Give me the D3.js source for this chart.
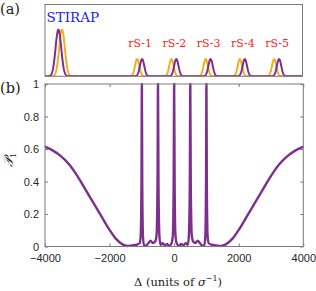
<!DOCTYPE html>
<html>
<head>
<meta charset="utf-8">
<script src="https://cdn.jsdelivr.net/npm/d3@7"></script>
<style>
  body { margin: 0; background: #fff; }
  svg { display: block; }
</style>
</head>
<body>
<div id="chart"></div>
<script>
// ---- panel (a): pulse sequence (time in arbitrary units 0..100)
var pulseLabels = ['STIRAP', 'rS-1', 'rS-2', 'rS-3', 'rS-4', 'rS-5'];
var stokesCenters = [5.2, 37.7, 51.0, 64.3, 77.6, 90.9];   // purple
var pumpCenters = [6.6, 35.8, 49.1, 62.4, 75.7, 89.0];     // orange
var pulseAmps = [0.65, 0.24, 0.24, 0.24, 0.24, 0.24];
var pulseWidths = [1.1, 0.85, 0.85, 0.85, 0.85, 0.85];

// ---- panel (b): population P1 vs detuning
var deltaVals = [-4000, -3750, -3500, -3250, -3000, -2750, -2500, -2250, -2000, -1800, -1600, -1450, -1300, -1150,
  -1070, -1035, -1012, -1000, -988, -965, -930, -880, -800, -730, -660, -590, -545, -515, -500, -485, -455, -420,
  -360, -290, -220, -150, -80, -40, -15, 0, 15, 40, 80, 150, 220, 290, 360, 420, 455, 485, 500, 515, 545, 590,
  660, 730, 800, 880, 930, 965, 988, 1000, 1012, 1035, 1070, 1150, 1300, 1450, 1600, 1800, 2000, 2250, 2500,
  2750, 3000, 3250, 3500, 3750, 4000];
var p1Vals = [0.615, 0.59, 0.555, 0.505, 0.435, 0.352, 0.268, 0.185, 0.102, 0.047, 0.013, 0.003, 0.007, 0.012,
  0.02, 0.07, 0.4, 1, 0.4, 0.06, 0.008, 0.004, 0.02, 0.036, 0.022, 0.03, 0.07, 0.38, 1, 0.38, 0.06, 0.01,
  0.02, 0.008, 0.015, 0.004, 0.02, 0.07, 0.4, 1, 0.4, 0.07, 0.02, 0.004, 0.015, 0.008, 0.02, 0.01, 0.06, 0.38,
  1, 0.38, 0.07, 0.03, 0.022, 0.036, 0.02, 0.004, 0.008, 0.06, 0.4, 1, 0.4, 0.07, 0.02, 0.012, 0.007, 0.003,
  0.013, 0.047, 0.102, 0.185, 0.268, 0.352, 0.435, 0.505, 0.555, 0.59, 0.615];
var xTicks = [-4000, -2000, 0, 2000, 4000];
var yTicks = [0, 0.2, 0.4, 0.6, 0.8, 1];

var purple = '#7E2F8E', orange = '#EDB120', boxColor = '#7a7a7a';
var serif = 'DejaVu Serif';
var sans = 'Liberation Sans';

var W = 316, H = 291;
var left = 45, right = 302.5;
var svg = d3.select('#chart').append('svg')
    .attr('width', W)
    .attr('height', H);

// ================= panel (a)
var aTop = 4.5, aBottom = 76.3;
var xa = d3.scaleLinear().domain([0, 100]).range([left, right]);
var ya = d3.scaleLinear().domain([0, 1]).range([aBottom, aTop]);

var tGrid = d3.range(0, 100.01, 0.1);
function pulseTrain(centers) {
    return tGrid.map(function (t) {
        var v = 0;
        centers.forEach(function (c, i) {
            v += pulseAmps[i] * Math.exp(-Math.pow(t - c, 2) / (2 * pulseWidths[i] * pulseWidths[i]));
        });
        return { t: t, v: v };
    });
}

var lineA = d3.line().x(d => xa(d.t)).y(d => ya(d.v));

svg.append('defs').append('clipPath').attr('id', 'clipA')
    .append('rect').attr('x', left).attr('y', aTop).attr('width', right - left).attr('height', aBottom - aTop);

var ga = svg.append('g').attr('clip-path', 'url(#clipA)');
ga.append('path')
    .datum(pulseTrain(pumpCenters))
    .attr('fill', 'none')
    .attr('stroke', orange)
    .attr('stroke-width', 2)
    .attr('d', lineA);
ga.append('path')
    .datum(pulseTrain(stokesCenters))
    .attr('fill', 'none')
    .attr('stroke', purple)
    .attr('stroke-width', 2)
    .attr('d', lineA);

svg.append('rect')
    .attr('x', left).attr('y', aTop)
    .attr('width', right - left).attr('height', aBottom - aTop)
    .attr('fill', 'none').attr('stroke', boxColor).attr('stroke-width', 1);

// pulse labels
svg.selectAll('.plabel')
    .data(pulseLabels)
    .enter()
    .append('text')
    .attr('class', 'plabel')
    .attr('x', (d, i) => i === 0 ? left + 1.5 : xa((stokesCenters[i] + pumpCenters[i]) / 2) + 0.5)
    .attr('y', (d, i) => i === 0 ? 21.7 : 47.3)
    .attr('text-anchor', (d, i) => i === 0 ? 'start' : 'middle')
    .attr('font-family', serif)
    .attr('font-size', (d, i) => i === 0 ? 13.5 : 11)
    .attr('fill', (d, i) => i === 0 ? '#2020ff' : '#ff2020')
    .text(d => d);

svg.append('text')
    .attr('x', 0).attr('y', 14)
    .attr('font-family', serif)
    .attr('font-size', 14.5).attr('fill', '#222')
    .text('(a)');

// ================= panel (b)
var bTop = 84, bBottom = 246.5;
var xb = d3.scaleLinear().domain([-4000, 4000]).range([left, right + 0.8]);
var yb = d3.scaleLinear().domain([0, 1]).range([bBottom, bTop]);

svg.append('text')
    .attr('x', 0).attr('y', 93)
    .attr('font-family', serif)
    .attr('font-size', 14.5).attr('fill', '#222')
    .text('(b)');

var xAxis = d3.axisBottom(xb).tickValues(xTicks).tickSize(-3).tickPadding(8).tickFormat(d3.format('d'));
var xAxisTop = d3.axisTop(xb).tickValues(xTicks).tickSize(-3).tickFormat('');
var yAxis = d3.axisLeft(yb).tickValues(yTicks).tickSize(-3).tickPadding(6).tickFormat(d => d === 0 || d === 1 ? d : d3.format('.1f')(d));
var yAxisRight = d3.axisRight(yb).tickValues(yTicks).tickSize(-3).tickFormat('');

function styleAxis(g) {
    g.select('.domain').remove();
    g.selectAll('.tick line').attr('stroke', boxColor);
    g.selectAll('.tick text')
        .attr('font-size', 11).attr('font-family', sans).attr('fill', '#262626');
}

svg.append('g').attr('transform', 'translate(0,' + bBottom + ')').call(xAxis).call(styleAxis);
svg.append('g').attr('transform', 'translate(0,' + bTop + ')').call(xAxisTop).call(styleAxis);
svg.append('g').attr('transform', 'translate(' + left + ',0)').call(yAxis).call(styleAxis);
svg.append('g').attr('transform', 'translate(' + xb(4000) + ',0)').call(yAxisRight).call(styleAxis);

var curve = deltaVals.map((d, i) => ({ x: d, y: p1Vals[i] }));
svg.append('path')
    .datum(curve)
    .attr('fill', 'none')
    .attr('stroke', purple)
    .attr('stroke-width', 2.4)
    .attr('stroke-linejoin', 'round')
    .attr('d', d3.line().x(d => xb(d.x)).y(d => yb(d.y)).curve(d3.curveMonotoneX));

svg.append('rect')
    .attr('x', left).attr('y', bTop)
    .attr('width', xb(4000) - left).attr('height', bBottom - bTop)
    .attr('fill', 'none').attr('stroke', boxColor).attr('stroke-width', 1);

// axis labels
var xl = svg.append('text')
    .attr('x', 178).attr('y', 286)
    .attr('text-anchor', 'middle')
    .attr('font-family', serif)
    .attr('font-size', 11.5).attr('fill', '#222');
xl.append('tspan').text('\u0394 (units of ');
xl.append('tspan').attr('font-style', 'italic').text('\u03C3');
xl.append('tspan').attr('dy', -5).attr('font-size', 8).text('\u22121');
xl.append('tspan').attr('dy', 5).text(')');

var yl = svg.append('text')
    .attr('transform', 'translate(13,160) rotate(-90)')
    .attr('text-anchor', 'middle')
    .attr('font-family', serif)
    .attr('font-size', 13).attr('fill', '#222');
yl.append('tspan').attr('font-style', 'italic').text('\uD835\uDCAB');
yl.append('tspan').attr('dy', 3).attr('font-size', 8).text('1');
</script>
</body>
</html>
